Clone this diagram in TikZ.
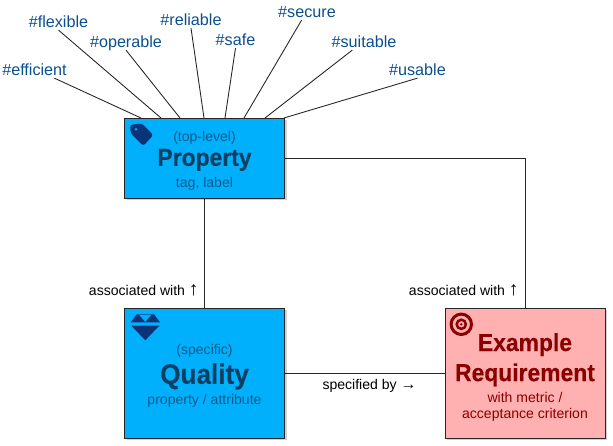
\documentclass[tikz,border=0pt]{standalone}
\usepackage{fontspec}
\setmainfont[BoldFeatures={FakeStretch=0.93,FakeBold=0.25}]{Liberation Sans}
\usetikzlibrary{shadows}
\definecolor{boxblue}{HTML}{00B0FC}
\definecolor{boxdark}{HTML}{0D3F63}
\definecolor{boxtext}{HTML}{0F5A8C}
\definecolor{tagblue}{HTML}{0B4F8F}
\definecolor{iconblue}{HTML}{0A3478}
\definecolor{boxred}{HTML}{FFB0B0}
\definecolor{textred}{HTML}{8B0000}
\tikzset{
    card/.style={draw=black!85, line width=0.45pt, align=center, inner sep=0pt,
        minimum width=3.2cm,
        drop shadow={shadow xshift=1.3pt, shadow yshift=-1.3pt, opacity=0.18, fill=black}},
    bluecard/.style={card, fill=boxblue, text=boxtext},
    redcard/.style={card, fill=boxred, text=textred},
    tagword/.style={text=tagblue, font=\fontsize{9.2}{11}\selectfont, inner sep=0pt,
        text height=8.8pt, text depth=1.2pt},
    edgeword/.style={font=\fontsize{8}{9}\selectfont, inner sep=0pt},
    link/.style={draw=black!85, line width=0.5pt}
}
\newcommand{\upsign}{{\fontsize{11}{10}\selectfont ↑}}
\newcommand{\rightsign}{{\fontsize{9}{10}\selectfont →}}
\begin{document}
\begin{tikzpicture}[x=0.02cm, y=-0.02cm]
    \useasboundingbox (0,0) rectangle (613,446);

    \node[
        bluecard,
        minimum height=1.6cm,
        name=property
    ] at (204.5,158) {\rule{0pt}{8.8pt}\fontsize{8}{9}\selectfont (top-level)\\[1.9pt]
        \fontsize{14}{15}\selectfont\bfseries\textcolor{boxdark}{Property}\\[0.1pt]
        \fontsize{8}{9}\selectfont tag, label};
    \node[
        bluecard,
        minimum height=2.6cm,
        name=quality
    ] at (204.5,373) {\rule{0pt}{9pt}\fontsize{8}{9}\selectfont (specific)\\[2.3pt]
        \fontsize{16}{17}\selectfont\bfseries\textcolor{boxdark}{Quality}\\[-0.4pt]
        \fontsize{8}{9}\selectfont property / attribute};
    \node[
        redcard,
        minimum height=2.6cm,
        name=requirement
    ] at (525,373) {\rule{0pt}{15pt}\fontsize{14}{15}\selectfont\bfseries Example\\[3.1pt]
        \fontsize{14}{15}\selectfont\bfseries Requirement\\[0pt]
        \fontsize{8}{9.6}\selectfont with metric /\\[-2.8pt]
        \fontsize{8}{9.6}\selectfont acceptance criterion};

    \node[tagword, name=efficient] at (34.5,69) {\#efficient};
    \node[tagword, name=flexible] at (58.5,21) {\#flexible};
    \node[tagword, name=operable] at (126,41) {\#operable};
    \node[tagword, name=reliable] at (191,19) {\#reliable};
    \node[tagword, name=safe] at (235.5,39) {\#safe};
    \node[tagword, name=secure] at (307,11) {\#secure};
    \node[tagword, name=suitable] at (364,41) {\#suitable};
    \node[tagword, name=usable] at (417.5,69) {\#usable};

    \coordinate (p1) at (141,118);
    \coordinate (p2) at (161,118);
    \coordinate (p3) at (180,118);
    \coordinate (p4) at (204,118);
    \coordinate (p5) at (225,118);
    \coordinate (p6) at (244,118);
    \coordinate (p7) at (265,118);
    \coordinate (p8) at (284,118);

    \draw[link] (efficient) -- (p1);
    \draw[link] (flexible.south) -- (p2);
    \draw[link] (operable.south) -- (p3);
    \draw[link] (reliable.south) -- (p4);
    \draw[link] (safe.south) -- (p5);
    \draw[link] (secure) -- (p6);
    \draw[link] (suitable) -- (p7);
    \draw[link] (usable.south) -- (p8);

    \draw[link] (property) -- (quality);
    \draw[link] (property.east) -| (requirement.north);
    \draw[link] (quality) -- (requirement);

    \node[edgeword, anchor=east, name=assocleft] at (199,290.5) {associated with \upsign};
    \node[edgeword, anchor=east, name=assocright] at (519,290.5) {associated with \upsign};
    \node[edgeword, name=specified] at (369.5,385.5) {specified by \rightsign};

    % tag icon
    \fill[iconblue, rounded corners=1.5pt] (130,125) -- (141.7,123.3) -- (153.3,135)
        -- (143.3,146) -- (130.7,133.3) -- cycle;
    \fill[boxblue] (136,129.3) circle (1.3);

    % gem icon
    \fill[iconblue] (136.7,314.3) -- (154,314.3) -- (160,322.3) -- (130.7,322.3) -- cycle;
    \fill[boxblue] (139.3,315) -- (151.3,315) -- (145.3,321.7) -- cycle;
    \fill[iconblue] (131.3,325.7) -- (159.3,325.7) -- (145.3,340.3) -- cycle;

    % target icon
    \draw[textred, line width=1.7pt] (461.3,324.3) circle (10.2);
    \draw[textred, line width=1.4pt] (461.3,324.3) circle (4.6);
    \fill[textred] (461.3,324.3) circle (1.3);
\end{tikzpicture}
\end{document}
